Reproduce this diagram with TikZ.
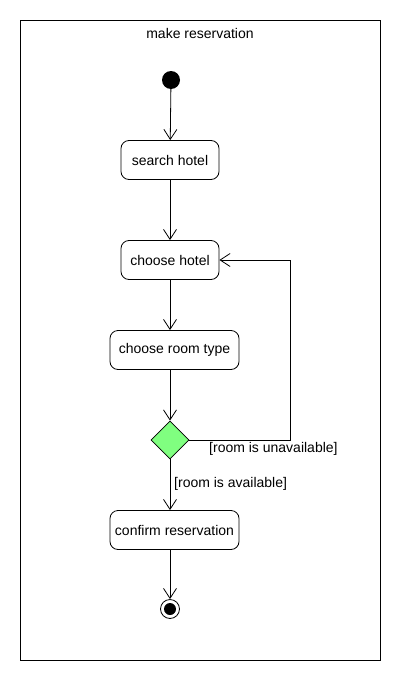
\documentclass[tikz,border=0pt]{standalone}
\usepackage{fontspec}
\setmainfont{Liberation Sans}
\usetikzlibrary{shapes.geometric,arrows.meta,positioning}
\definecolor{decgreen}{RGB}{128,255,128}
\begin{document}
\begin{tikzpicture}[x=1pt,y=-1pt,
  every node/.style={font=\fontsize{14}{16}\selectfont},
  act/.style={draw,rounded corners=8pt,minimum height=39pt,line width=0.8pt,inner sep=0pt},
  flow/.style={draw,line width=0.8pt,-{Straight Barb[length=10pt,width=13pt,line width=0.8pt]}},
  lbl/.style={inner sep=0pt,anchor=west}
]
\useasboundingbox (0,0) rectangle (400,680);
\draw[line width=0.8pt] (20,20) rectangle (380,660);
\node (title) at (200,33) {make reservation};
\node[circle,fill=black,minimum size=18pt,inner sep=0pt] (start) at (171,80) {};
\node[act,minimum width=98pt] (search) at (170,160) {search hotel};
\node[act,minimum width=98pt] (choose) at (170,260) {choose hotel};
\node[act,minimum width=129pt] (room) at (174.5,350) {choose room type};
\node[diamond,draw,fill=decgreen,minimum width=38pt,minimum height=38pt,inner sep=0pt,line width=0.8pt] (dec) at (170,440) {};
\node[act,minimum width=129pt] (confirm) at (174.5,530) {confirm reservation};
\node[circle,draw,line width=0.8pt,minimum size=19pt,inner sep=0pt] (end) at (170,609) {};
\node[circle,fill=black,minimum size=12pt,inner sep=0pt] (endin) at (end.center) {};
\coordinate (c1) at (290,440);
\coordinate (c2) at (290,260);
\draw[flow] (start) -- (search);
\draw[flow] (search) -- (choose);
\draw[flow] (choose) -- (choose.south |- room.north);
\draw[flow] (choose.south |- room.south) -- (dec);
\draw[flow] (dec.south) -- (dec.south |- confirm.north);
\draw[flow] (dec.south |- confirm.south) -- (end);
\draw[flow] (dec.east) -- (c1) -- (c2) -- (choose.east);
\node[lbl] (unav) at (209,449) {[room is unavailable]};
\node[lbl] (av) at (174,484) {[room is available]};
\end{tikzpicture}
\end{document}
